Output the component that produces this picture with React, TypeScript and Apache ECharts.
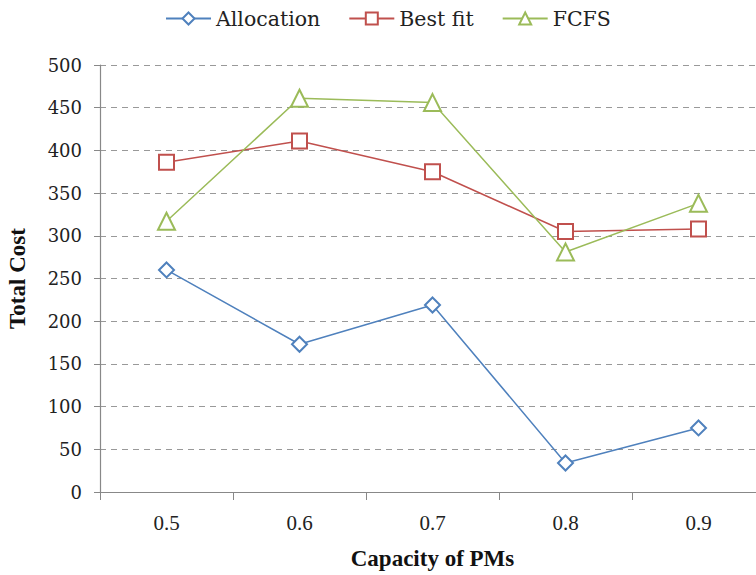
import React, { useEffect, useRef } from "react";
import * as echarts from "echarts";

const categories = ["0.5", "0.6", "0.7", "0.8", "0.9"];
const allocation = [260, 173, 219, 34, 75];
const bestFit = [386, 411, 375, 305, 308];
const fcfs = [317, 461, 456, 281, 338];
const yTicks = { min: 0, max: 500, interval: 50 };

export default function App() {
  const ref = useRef<HTMLDivElement>(null);
  useEffect(() => {
    if (!ref.current) return;
    const chart = echarts.init(ref.current, null, { renderer: "svg" });
    const mk = (name: string, data: number[], color: string, symbol: string, size: number) => ({
      name,
      type: "line",
      data,
      symbol,
      symbolSize: size,
      showAllSymbol: true,
      lineStyle: { color, width: 1.5 },
      itemStyle: { color, borderColor: color, borderWidth: 1.5 },
    });
    chart.setOption({
      animation: false,
      backgroundColor: "#fff",
      legend: {
        top: 3,
        left: 160,
        itemWidth: 45,
        itemHeight: 15,
        itemGap: 28,
        textStyle: { fontFamily: "DejaVu Serif", fontSize: 20.5, color: "#222" },
        data: ["Allocation", "Best fit", "FCFS"],
      },
      grid: { left: 100, top: 65, width: 665, height: 427, outerBoundsMode: "none", containLabel: false },
      xAxis: {
        type: "category",
        data: categories,
        boundaryGap: true,
        name: "Capacity of PMs",
        nameLocation: "middle",
        nameGap: 55,
        nameTextStyle: { fontFamily: "Liberation Serif", fontWeight: "bold", fontSize: 23, color: "#111" },
        axisLine: { lineStyle: { color: "#888", width: 1.2 } },
        axisTick: { show: true, length: 8, alignWithLabel: false, lineStyle: { color: "#888" } },
        axisLabel: { margin: 20, fontFamily: "Liberation Serif", fontSize: 21, color: "#222" },
        splitLine: { show: false },
      },
      yAxis: {
        type: "value",
        min: yTicks.min,
        max: yTicks.max,
        interval: yTicks.interval,
        name: "Total Cost",
        nameLocation: "middle",
        nameGap: 71,
        nameTextStyle: { fontFamily: "Liberation Serif", fontWeight: "bold", fontSize: 23, color: "#111" },
        axisLine: { show: true, lineStyle: { color: "#888", width: 1.2 } },
        axisTick: { show: true, length: 6, lineStyle: { color: "#888" } },
        axisLabel: { margin: 18, fontFamily: "DejaVu Serif", fontSize: 18, color: "#222" },
        splitLine: { show: true, lineStyle: { color: "#999", type: [6, 5], width: 1.2 } },
      },
      series: [
        mk("Allocation", allocation, "#4F81BD", "emptyDiamond", 15),
        mk("Best fit", bestFit, "#C0504D", "emptyRect", 15),
        mk("FCFS", fcfs, "#9BBB59", "emptyTriangle", 17),
      ],
    });
    return () => chart.dispose();
  }, []);
  return <div ref={ref} style={{ width: 756, height: 575, position: "absolute", left: 0, top: 0 }} />;
}
